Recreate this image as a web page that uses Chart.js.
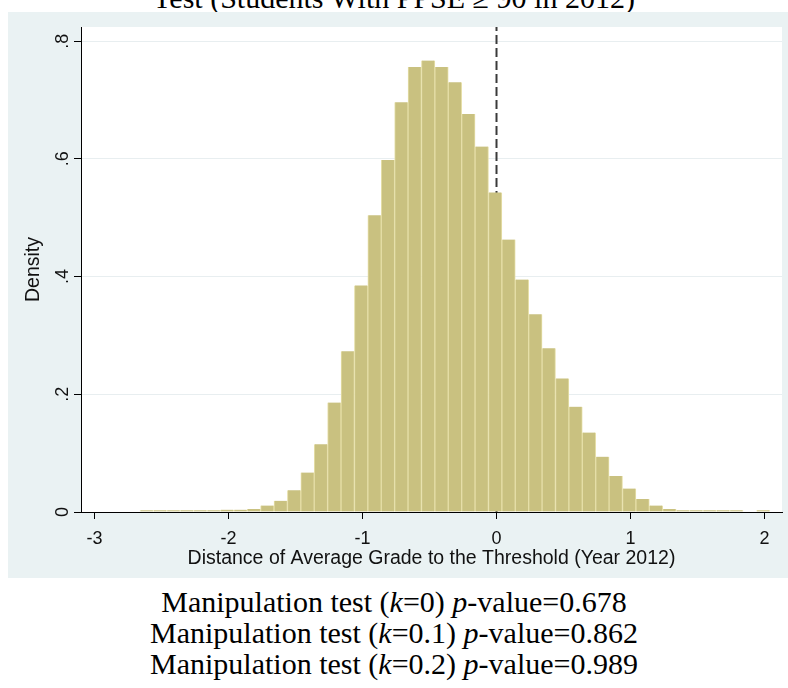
<!DOCTYPE html>
<html>
<head>
<meta charset="utf-8">
<script src="https://cdn.jsdelivr.net/npm/chart.js@4.4.1/dist/chart.umd.min.js"></script>
<style>
  html, body { margin: 0; padding: 0; background: #fff; }
  body { width: 788px; height: 688px; position: relative; overflow: hidden; }
  #title {
    position: absolute; left: 0; width: 788px; top: -17px;
    font: 30px/30px "Liberation Serif", "Times New Roman", serif;
    text-align: center; color: #000; white-space: nowrap;
  }
  #wrap { position: absolute; left: 8px; top: 12px; width: 780px; height: 566px; }
  #caption {
    position: absolute; left: 0; width: 788px; top: 586px;
    font: 30px/31px "Liberation Serif", "Times New Roman", serif;
    text-align: center; color: #000;
  }
</style>
</head>
<body>
<div id="title">Test (Students With PPSE &ge; 90 in 2012)</div>
<div id="wrap"><canvas id="histChart" width="780" height="566"></canvas></div>
<div id="caption">
  <div>Manipulation test (<i>k</i>=0) <i>p</i>-value=0.678</div>
  <div>Manipulation test (<i>k</i>=0.1) <i>p</i>-value=0.862</div>
  <div>Manipulation test (<i>k</i>=0.2) <i>p</i>-value=0.989</div>
</div>
<script>
// bin midpoints (width 0.1) and their densities
const binMids = [
  -2.71, -2.61, -2.51, -2.41, -2.31, -2.21, -2.11, -2.01, -1.91, -1.81,
  -1.71, -1.61, -1.51, -1.41, -1.31, -1.21, -1.11, -1.01, -0.91, -0.81,
  -0.71, -0.61, -0.51, -0.41, -0.31, -0.21, -0.11, -0.01, 0.09, 0.19,
  0.29, 0.39, 0.49, 0.59, 0.69, 0.79, 0.89, 0.99, 1.09, 1.19,
  1.29, 1.39, 1.49, 1.59, 1.69, 1.79, 1.89, 1.99
];
const density = [
  0, 0.003, 0.003, 0.003, 0.003, 0.003, 0.003, 0.004, 0.004, 0.005,
  0.011, 0.019, 0.037, 0.067, 0.115, 0.186, 0.273, 0.385, 0.504, 0.598,
  0.696, 0.756, 0.767, 0.756, 0.730, 0.676, 0.621, 0.543, 0.463, 0.395,
  0.336, 0.278, 0.227, 0.179, 0.135, 0.094, 0.061, 0.040, 0.022, 0.011,
  0.005, 0.003, 0.003, 0.003, 0.003, 0.003, 0, 0.003
];
const xTicks = [-3, -2, -1, 0, 1, 2];
const yTicks = [0, 0.2, 0.4, 0.6, 0.8];
const yTickLabels = ['0', '.2', '.4', '.6', '.8'];
const threshold = 0;

const xMin = -3.1, xMax = 2.13, yMax = 0.824;
const fontFamily = '"Liberation Sans", Arial, sans-serif';
const tickFont = { family: fontFamily, size: 18 };
const titleFont = { family: fontFamily, size: 19.5 };

// white plot region on the light bluish-gray graph region
const plotRegion = {
  id: 'plotRegion',
  beforeDraw(chart) {
    const { ctx, chartArea: a } = chart;
    ctx.save();
    ctx.fillStyle = '#eaf2f3';
    ctx.fillRect(0, 0, chart.width, chart.height);
    ctx.fillStyle = '#ffffff';
    ctx.fillRect(a.left, a.top, a.right - a.left, a.bottom - a.top);
    ctx.restore();
  }
};

// y labels are drawn vertically
const verticalYLabels = {
  id: 'verticalYLabels',
  afterDraw(chart) {
    const { ctx } = chart;
    const y = chart.scales.y;
    ctx.save();
    ctx.fillStyle = '#111';
    ctx.font = tickFont.size + 'px ' + tickFont.family;
    ctx.textAlign = 'center';
    ctx.textBaseline = 'middle';
    y.ticks.forEach(t => {
      ctx.save();
      ctx.translate(55, y.getPixelForValue(t.value));
      ctx.rotate(-Math.PI / 2);
      ctx.fillText(t.label, 0, 0);
      ctx.restore();
    });
    ctx.restore();
  }
};

new Chart(document.getElementById('histChart').getContext('2d'), {
  type: 'bar',
  data: {
    datasets: [
      {
        type: 'bar',
        data: binMids.map((m, i) => ({ x: m, y: density[i] })),
        backgroundColor: '#c9c180',
        borderColor: '#e6dfa8',
        borderWidth: { left: 1, right: 1, top: 0, bottom: 0 },
        borderSkipped: false,
        barPercentage: 1,
        categoryPercentage: 1,
        order: 0
      },
      {
        type: 'line',
        data: [{ x: threshold, y: 0 }, { x: threshold, y: yMax }],
        borderColor: '#3a3a3a',
        borderWidth: 2,
        borderDash: [9, 4],
        pointRadius: 0,
        order: 1
      }
    ]
  },
  options: {
    responsive: false,
    animation: false,
    devicePixelRatio: 1,
    layout: { padding: { left: 0, top: 15, right: 6, bottom: 0 } },
    plugins: { legend: { display: false }, tooltip: { enabled: false } },
    scales: {
      x: {
        type: 'linear',
        offset: false,
        min: xMin,
        max: xMax,
        afterFit(scale) { scale.height = 66; },
        afterBuildTicks(scale) { scale.ticks = xTicks.map(v => ({ value: v })); },
        ticks: { color: '#111', font: tickFont, padding: 9, autoSkip: false, maxRotation: 0 },
        grid: { offset: false, drawOnChartArea: false, tickLength: 7, tickColor: '#000', tickWidth: 1 },
        border: { display: true, color: '#000', width: 1 },
        title: {
          display: true,
          text: 'Distance of Average Grade to the Threshold (Year 2012)',
          color: '#111',
          font: titleFont,
          padding: { top: 0, bottom: 8 }
        }
      },
      y: {
        min: 0,
        max: yMax,
        afterFit(scale) { scale.width = 73; },
        afterBuildTicks(scale) { scale.ticks = yTicks.map(v => ({ value: v })); },
        ticks: {
          display: false,
          callback: (v) => yTickLabels[yTicks.findIndex(t => Math.abs(t - v) < 1e-9)]
        },
        grid: { color: '#e8eef0', tickLength: 7, tickColor: '#000', tickWidth: 1 },
        border: { display: true, color: '#000', width: 1 },
        title: {
          display: true,
          text: 'Density',
          color: '#111',
          font: titleFont,
          padding: { top: 14, bottom: 0 }
        }
      }
    }
  },
  plugins: [plotRegion, verticalYLabels]
});
</script>
</body>
</html>
